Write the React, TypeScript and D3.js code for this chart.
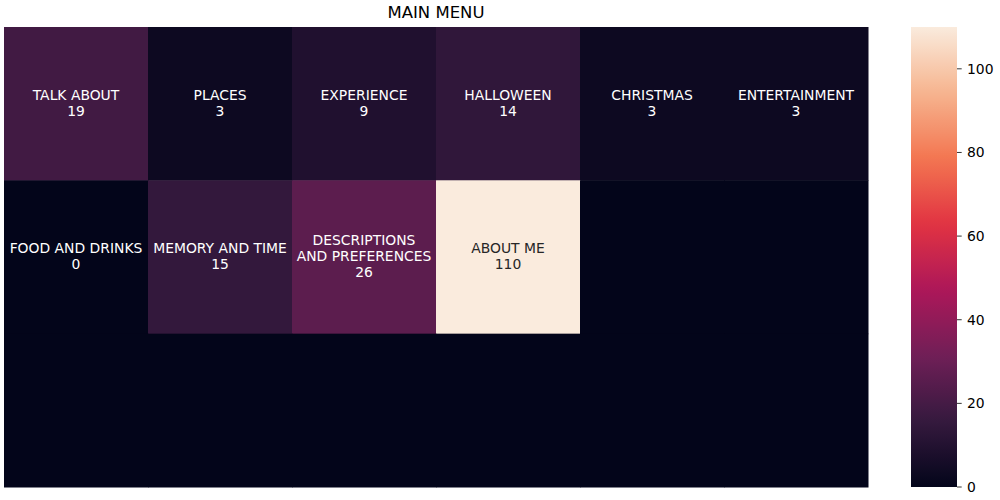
import React from "react";
import * as d3 from "d3";

const rows = [0, 1, 2];
const cols = [0, 1, 2, 3, 4, 5];
const labels: (string | null)[][] = [
  ["TALK ABOUT", "PLACES", "EXPERIENCE", "HALLOWEEN", "CHRISTMAS", "ENTERTAINMENT"],
  ["FOOD AND DRINKS", "MEMORY AND TIME", "DESCRIPTIONS\nAND PREFERENCES", "ABOUT ME", null, null],
  [null, null, null, null, null, null],
];
const values: number[][] = [
  [19, 3, 9, 14, 3, 3],
  [0, 15, 26, 110, 0, 0],
  [0, 0, 0, 0, 0, 0],
];
const cbTicks = [0, 20, 40, 60, 80, 100];
const rocketStops = ["#03051a", "#35193e", "#701f57", "#ad1759", "#e13342", "#f37651", "#f6b48f", "#faebdd"];

export default function App() {
  const W = 1000, H = 500;
  const x0 = 4, x1 = 868, y0 = 27, y1 = 487;
  const xs = d3.scaleBand<number>().domain(cols).range([x0, x1]);
  const ys = d3.scaleBand<number>().domain(rows).range([y0, y1]);
  const vmin = 0, vmax = 110;
  const interp = d3.piecewise(d3.interpolateRgb, rocketStops);
  const color = (v: number) => interp((v - vmin) / (vmax - vmin));
  const cbX = 911, cbW = 46;
  const cbY = d3.scaleLinear().domain([vmin, vmax]).range([y1, y0]);
  const font = "DejaVu Sans, sans-serif";
  const fs = 13.9;
  const lh = 16;
  const gradStops = d3.range(0, 1.0001, 0.02);
  return (
    <svg width={W} height={H} style={{ position: "absolute", left: 0, top: 0 }} fontFamily={font}>
      <defs>
        <linearGradient id="cb" x1="0" y1="1" x2="0" y2="0">
          {gradStops.map((t) => (
            <stop key={t} offset={t} stopColor={interp(t)} />
          ))}
        </linearGradient>
      </defs>
      <rect x={0} y={0} width={W} height={H} fill="#fff" />
      <text x={(x0 + x1) / 2} y={18} textAnchor="middle" fontSize={16.5} fill="#000">MAIN MENU</text>
      {rows.map((r) =>
        cols.map((c) => (
          <rect key={`${r}-${c}`} x={xs(c)} y={ys(r)} width={xs.bandwidth() + 0.5} height={ys.bandwidth() + 0.5} fill={color(values[r][c])} />
        ))
      )}
      {rows.map((r) =>
        cols.map((c) => {
          const lab = labels[r][c];
          if (lab === null) return null;
          const lines = [...lab.split("\n"), String(values[r][c])];
          const cx = (xs(c) as number) + xs.bandwidth() / 2;
          const cy = (ys(r) as number) + ys.bandwidth() / 2 - 1;
          const t = values[r][c] / vmax;
          const fill = t > 0.6 ? "#262626" : "#ffffff";
          const startY = cy - ((lines.length - 1) * lh) / 2;
          return (
            <text key={`t${r}-${c}`} textAnchor="middle" fontSize={fs} fill={fill}>
              {lines.map((ln, i) => (
                <tspan key={i} x={cx} y={startY + i * lh} dy="0.35em">{ln}</tspan>
              ))}
            </text>
          );
        })
      )}
      <rect x={cbX} y={y0} width={cbW} height={y1 - y0} fill="url(#cb)" />
      {cbTicks.map((v) => (
        <g key={v} transform={`translate(${cbX + cbW},${cbY(v)})`}>
          <line x1={0} x2={4.7} y1={0} y2={0} stroke="#000" strokeWidth={0.8} />
          <text x={10} y={0} dy="0.35em" fontSize={fs} fill="#000">{v}</text>
        </g>
      ))}
    </svg>
  );
}
